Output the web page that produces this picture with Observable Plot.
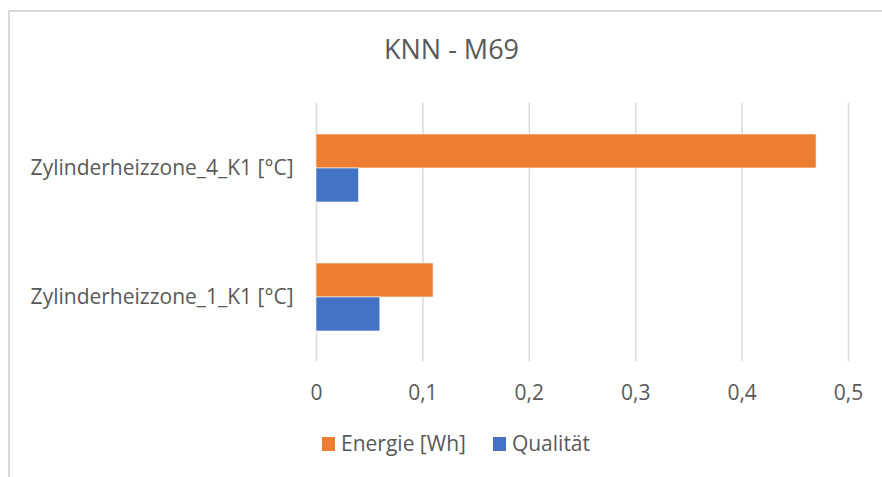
<!DOCTYPE html>
<html>
<head>
<meta charset="utf-8">
<script src="https://cdn.jsdelivr.net/npm/d3@7"></script>
<script src="https://cdn.jsdelivr.net/npm/@observablehq/plot@0.6"></script>
<style>
  html, body { margin: 0; padding: 0; background: #fff; overflow: hidden; }
  #wrap { position: relative; width: 882px; height: 477px; font-family: "Open Sans", sans-serif; color: #595959; }
  #border { position: absolute; left: 8px; top: 10px; width: 900px; height: 500px; border: 2px solid #d9d9d9; box-sizing: border-box; }
  #chart { position: absolute; left: 0; top: 0; }
  #title { position: absolute; left: 0; width: 903px; top: 35px; text-align: center; font-size: 27px; line-height: 27px; }
  #legend { position: absolute; top: 433px; left: 322px; display: flex; align-items: center; font-size: 21px; line-height: 21px; }
  .sw { display: inline-block; width: 13px; height: 14px; margin-right: 6px; }
  .item { display: flex; align-items: center; margin-right: 27px; }
</style>
</head>
<body>
<div id="wrap">
  <div id="border"></div>
  <div id="chart"></div>
  <div id="title"></div>
  <div id="legend"></div>
</div>
<script>
const chartTitle = "KNN - M69";
const categories = ["Zylinderheizzone_4_K1 [°C]", "Zylinderheizzone_1_K1 [°C]"];
const seriesNames = ["Energie [Wh]", "Qualität"];
const seriesColors = ["#ED7D31", "#4472C4"];
const energieValues = [0.47, 0.11];
const qualitaetValues = [0.04, 0.06];
const xTicks = [0, 0.1, 0.2, 0.3, 0.4, 0.5];

const rows = [];
categories.forEach((c, i) => {
  rows.push({category: c, series: seriesNames[0], value: energieValues[i]});
  rows.push({category: c, series: seriesNames[1], value: qualitaetValues[i]});
});

const fmt = d => String(d).replace(".", ",");

const plot = Plot.plot({
  width: 882,
  height: 477,
  marginTop: 103,
  marginBottom: 116,
  marginLeft: 316,
  marginRight: 34,
  style: {fontFamily: "Open Sans, sans-serif", fontSize: "21px", color: "#595959", background: "transparent"},
  x: {domain: [0, 0.5], ticks: xTicks, axis: null},
  y: {domain: seriesNames, paddingInner: 0, paddingOuter: 0.897, axis: null},
  fy: {domain: categories, padding: 0, axis: null},
  color: {domain: seriesNames, range: seriesColors},
  marks: [
    Plot.gridX(xTicks, {stroke: "#d9d9d9", strokeOpacity: 1, strokeWidth: 1.5}),
    Plot.barX(rows, {x: "value", y: "series", fy: "category", fill: "series", stroke: "white", strokeWidth: 0.6}),
    Plot.axisX({ticks: xTicks, tickFormat: fmt, tickSize: 0, tickPadding: 24, label: null, fill: "#595959", fontSize: 21}),
    Plot.axisFy({anchor: "left", tickSize: 0, tickPadding: 23, label: null, fill: "#595959", fontSize: 21})
  ]
});
document.getElementById("chart").append(plot);

document.getElementById("title").textContent = chartTitle;
const legend = document.getElementById("legend");
seriesNames.forEach((s, i) => {
  const item = document.createElement("span");
  item.className = "item";
  const sw = document.createElement("span");
  sw.className = "sw";
  sw.style.background = seriesColors[i];
  item.append(sw, document.createTextNode(s));
  legend.append(item);
});
</script>
</body>
</html>
